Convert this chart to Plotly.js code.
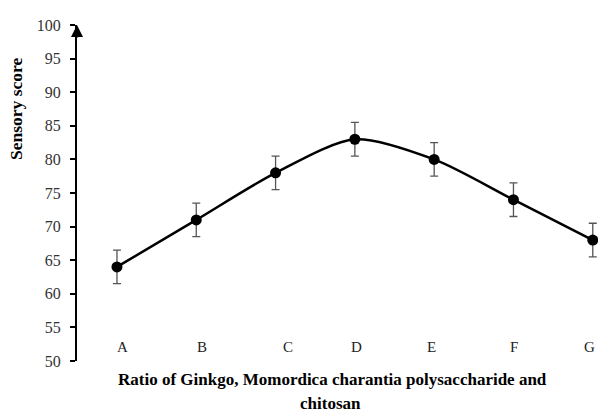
<!DOCTYPE html>
<html><head><meta charset="utf-8">
<script src="https://cdn.plot.ly/plotly-3.0.1.min.js"></script>
<style>html,body{margin:0;padding:0;background:#fff}#c{width:598px;height:413px}</style>
</head><body><div id="c"></div>
<script>
var categories = ["A","B","C","D","E","F","G"];
var scores = [64, 71, 78, 83, 80, 74, 68];
var errors = [2.5, 2.5, 2.5, 2.5, 2.5, 2.5, 2.5];
var yTicks = [50,55,60,65,70,75,80,85,90,95,100];
var xTitleLines = ["Ratio of Ginkgo, Momordica charantia polysaccharide and", "chitosan"];
var yTitle = "Sensory score";

var xs = categories.map(function(_, i){ return i; });
var serif = "Liberation Serif";
var labelNudge = [6, 6, 12, 2, -3, 1, -3];

var trace = {
  x: xs, y: scores, type: "scatter", mode: "lines+markers",
  line: {color: "#000", width: 2.5, shape: "spline", smoothing: 0.8},
  marker: {color: "#000", size: 11},
  error_y: {type: "data", array: errors, visible: true, color: "#555", thickness: 1.3, width: 4},
  cliponaxis: false, hoverinfo: "none"
};

var annotations = categories.map(function(c, i){
  return {x: i, y: 52.1, xref: "x", yref: "y", text: c, showarrow: false, xshift: labelNudge[i],
    font: {family: serif, size: 15, color: "#222"}};
});
annotations.push({x: 0, xref: "paper", y: 100, yref: "y", ax: 0, ay: 14, axref: "pixel", ayref: "pixel",
  showarrow: true, arrowhead: 2, arrowsize: 1.2, arrowwidth: 2, arrowcolor: "#000", text: "", standoff: 0});
// x-axis title (two lines)
annotations.push({x: 0.491, xref: "paper", y: -0.056, yref: "paper", text: "<b>" + xTitleLines[0] + "</b>",
  showarrow: false, xanchor: "center", yanchor: "middle", borderpad: 0, font: {family: serif, size: 17, color: "#000"}});
annotations.push({x: 0.487, xref: "paper", y: -0.126, yref: "paper", text: "<b>" + xTitleLines[1] + "</b>",
  showarrow: false, xanchor: "center", yanchor: "middle", borderpad: 0, font: {family: serif, size: 17, color: "#000"}});
// y-axis title
annotations.push({x: -0.117, xref: "paper", y: 0.75, yref: "paper", text: "<b>" + yTitle + "</b>", textangle: -90,
  showarrow: false, xanchor: "center", yanchor: "middle", font: {family: serif, size: 17.5, color: "#000"}});

var layout = {
  width: 598, height: 413,
  font: {family: serif},
  margin: {l: 77, r: 0, t: 25, b: 52},
  paper_bgcolor: "#fff", plot_bgcolor: "#fff",
  showlegend: false,
  xaxis: {range: [-0.504, 6.066], showgrid: false, zeroline: false, showline: false,
    showticklabels: false, ticks: ""},
  yaxis: {range: [50, 100], tickvals: yTicks, showgrid: false, zeroline: false,
    showline: true, linecolor: "#000", linewidth: 2, ticks: "outside", ticklen: 5, tickcolor: "#000", tickwidth: 1.5,
    ticklabelstandoff: 6,
    tickfont: {family: serif, size: 16, color: "#333"}},
  annotations: annotations
};
Plotly.newPlot("c", [trace], layout, {displayModeBar: false});
</script></body></html>
